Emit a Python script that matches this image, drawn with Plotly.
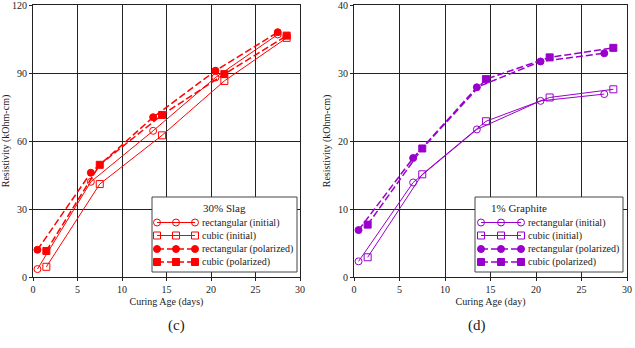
import plotly.graph_objects as go

# Data
x_rect = [0.5, 6.5, 13.5, 20.5, 27.5]
x_cubic = [1.5, 7.5, 14.5, 21.5, 28.5]

slag_rect_init = [3.5, 42, 64.5, 88, 107]
slag_cubic_init = [4.5, 41, 62.5, 86.5, 105.5]
slag_rect_pol = [12, 46, 70.5, 91, 108]
slag_cubic_pol = [11.5, 49.5, 71.5, 89.5, 106.5]

gr_rect_init = [2.3, 13.9, 21.7, 25.9, 26.9]
gr_cubic_init = [2.9, 15.1, 22.9, 26.4, 27.6]
gr_rect_pol = [6.9, 17.5, 27.9, 31.7, 32.9]
gr_cubic_pol = [7.7, 18.9, 29.1, 32.3, 33.7]

names = ["rectangular (initial)", "cubic (initial)", "rectangular (polarized)", "cubic (polarized)"]
RED = "#ff0000"
PURPLE = "#9900cc"
FONT = "Liberation Serif"
INK = "#222222"

W, H = 635, 348
PT, PB = 5, 277  # plot top / bottom pixels
panels = [
    # xaxis, yaxis, pixel left, pixel right, y max, color, series, legend title, legend box, sample px, text px
    ("x", "y", 33, 300, 120, RED,
     [slag_rect_init, slag_cubic_init, slag_rect_pol, slag_cubic_pol],
     "30% Slag", (152, 197, 297, 272), (157, 176, 195), 200),
    ("x2", "y2", 354, 627, 40, PURPLE,
     [gr_rect_init, gr_cubic_init, gr_rect_pol, gr_cubic_pol],
     "1% Graphite", (475, 197, 623, 272), (481, 501, 521), 526),
]

styles = [
    ("circle-open", "solid", 1, 7),
    ("square-open", "solid", 1, 7),
    ("circle", "7px,3px", 1.5, 7),
    ("square", "7px,3px", 1.5, 7),
]
row_y = [222.5, 235.5, 249, 262]

fig = go.Figure()
shapes = []
annotations = []

for xa, ya, pl, pr, ymax, color, series, title, (bx0, by0, bx1, by1), sx, tx in panels:
    xs_list = [x_rect, x_cubic, x_rect, x_cubic]
    for xs, ys, (sym, dash, w, ms), nm in zip(xs_list, series, styles, names):
        fig.add_trace(go.Scatter(
            x=xs, y=ys, name=nm, mode="lines+markers", showlegend=False,
            xaxis=xa, yaxis=ya,
            line=dict(color=color, width=w, dash=dash),
            marker=dict(symbol=sym, size=ms, color=color, line=dict(color=color, width=1)),
        ))

    # legend box (drawn above grid, below traces)
    px2x = lambda p: (p - pl) / (pr - pl) * 30
    px2y = lambda p: (PB - p) / (PB - PT) * ymax
    shapes.append(dict(type="rect", xref=xa, yref=ya,
                       x0=px2x(bx0), x1=px2x(bx1), y0=px2y(by1), y1=px2y(by0),
                       line=dict(color="#444", width=1), fillcolor="white", layer="between"))
    annotations.append(dict(text=title, x=(bx0 + bx1) / 2 / W, y=1 - 208 / H, xref="paper", yref="paper",
                            showarrow=False, font=dict(size=11, family=FONT, color=INK)))
    for (sym, dash, w, ms), nm, ry in zip(styles, names, row_y):
        fig.add_trace(go.Scatter(
            x=[px2x(v) for v in sx], y=[px2y(ry)] * 3, mode="lines+markers", showlegend=False,
            hoverinfo="skip", xaxis=xa, yaxis=ya,
            line=dict(color=color, width=w, dash=dash),
            marker=dict(symbol=sym, size=ms, color=color, line=dict(color=color, width=1)),
        ))
        annotations.append(dict(text=nm, x=tx / W, y=1 - ry / H, xref="paper", yref="paper",
                                xanchor="left", yanchor="middle", showarrow=False,
                                font=dict(size=10, family=FONT, color=INK)))

ydom = [1 - PB / H, 1 - PT / H]
axcommon = dict(showgrid=True, gridcolor=INK, gridwidth=1, showline=True, linecolor=INK,
                linewidth=1, mirror=True, ticks="outside", ticklen=3, tickcolor=INK,
                tickfont=dict(size=10, family=FONT, color=INK), zeroline=False,
                ticklabeloverflow="allow", automargin=False)
tfont = dict(size=10, family=FONT, color=INK)

fig.update_layout(
    width=W, height=H, margin=dict(l=0, r=0, t=0, b=0, autoexpand=False),
    paper_bgcolor="white", plot_bgcolor="white",
    font=dict(family=FONT, size=10, color=INK),
    xaxis=dict(domain=[33 / W, 300 / W], range=[0, 30], dtick=5, anchor="y",
               title=dict(text="Curing Age (days)", font=tfont, standoff=3), **axcommon),
    yaxis=dict(domain=ydom, range=[0, 120], dtick=30, anchor="x",
               title=dict(text="Resistivity (kOhm-cm)", font=tfont, standoff=5), **axcommon),
    xaxis2=dict(domain=[354 / W, 627 / W], range=[0, 30], dtick=5, anchor="y2",
                title=dict(text="Curing Age (day)", font=tfont, standoff=3), **axcommon),
    yaxis2=dict(domain=ydom, range=[0, 40], dtick=10, anchor="x2",
                title=dict(text="Resistivity (kOhm-cm)", font=tfont, standoff=5), **axcommon),
    shapes=shapes,
    annotations=annotations + [
        dict(text="(c)", x=166 / W, y=1 - 336 / H, xref="paper", yref="paper", showarrow=False,
             font=dict(size=15, family=FONT, color=INK)),
        dict(text="(d)", x=488 / W, y=1 - 336 / H, xref="paper", yref="paper", showarrow=False,
             font=dict(size=15, family=FONT, color=INK)),
    ],
)

fig.write_html("out.html")
